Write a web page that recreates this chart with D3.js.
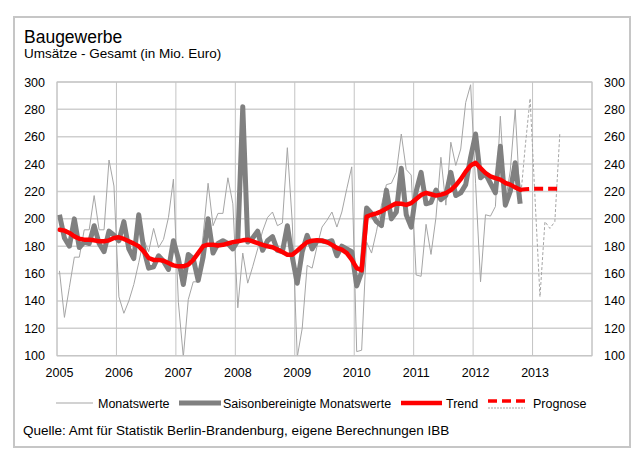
<!DOCTYPE html>
<html>
<head>
<meta charset="utf-8">
<script src="https://cdn.jsdelivr.net/npm/d3@7"></script>
<style>
  body { margin: 0; background: #fff; }
  text { font-family: "Liberation Sans", Arial, Helvetica, sans-serif; fill: #000; }
</style>
</head>
<body>
<svg id="chart" width="636" height="450"></svg>
<script>
const svg = d3.select("#chart");

// --- data (monthly, starting Jan 2005) ---
const years = [2005, 2006, 2007, 2008, 2009, 2010, 2011, 2012, 2013];
const yTicks = [100, 120, 140, 160, 180, 200, 220, 240, 260, 280, 300];

const monatswerte = [
  162, 128, 150, 172, 172, 192, 192, 217, 192, 192, 243, 224,
  143, 131, 140, 152, 168, 185, 176, 193, 179, 185, 201, 229,
  139, 99, 141, 154, 154, 188, 226, 195, 204, 204, 230, 211,
  135, 175, 153, 165, 178, 191, 201, 205, 195, 197, 252, 197,
  99, 120, 166, 164, 180, 194, 199, 205, 194, 205, 222, 238,
  103, 104, 183, 175, 191, 210, 225, 226, 234, 262, 236, 232,
  159, 158, 196, 174, 201, 245, 210, 256, 239, 251, 285, 298,
  226, 154, 203, 202, 209, 275, 212, 235, 280, 212
];

const saisonbereinigt = [
  203, 186, 180, 200, 179, 183, 182, 195, 182, 176, 191, 188,
  184, 198, 178, 171, 203, 178, 164, 165, 173, 169, 163, 184,
  171, 152, 174, 171, 155, 172, 200, 175, 182, 184, 182, 178,
  184, 282, 183, 186, 191, 177, 184, 187, 177, 176, 195, 172,
  153, 176, 188, 178, 184, 184, 183, 184, 173, 180, 178, 176,
  151, 161, 208, 204, 198, 195, 221, 200, 205, 237, 203, 194,
  220, 234, 211, 212, 221, 214, 217, 234, 217, 219, 225, 245,
  262, 230, 233, 226, 219, 253, 210, 220, 241, 211
];

const trend = [
  192, 191.4, 189.7, 187.2, 185.5, 184.8, 184.8, 184.3, 183.6, 183.6, 184.3, 186,
  186.5, 185.3, 183.6, 181.9, 180, 176.2, 171.4, 170, 170, 169.4, 167.7, 166,
  165.3, 165.3, 166.5, 170, 175, 180, 181.1, 181.1, 180.6, 181, 182, 183,
  183.6, 184.3, 184.8, 183.6, 182.3, 181, 180, 179.2, 177.5, 175.8, 173.8, 173.8,
  176.7, 180, 183, 184, 184.3, 184, 183, 181, 178.7, 177.5, 175, 170.2,
  164, 162.4, 201.6, 203, 204, 205.5, 207.5, 209.5, 211.3, 211, 210.2, 211.5,
  214.5, 217.5, 219, 218, 217, 217.7, 218.8, 221, 224.5, 229, 234.5, 239,
  241, 237, 233.5, 231, 229.8, 228.6, 226.2, 225, 223, 221.3
];

// forecast, Oct 2012 .. Jun 2013
const prognoseStart = 93;
const prognoseMonat = [212, 252, 288, 215, 143, 198, 193, 198, 262];
const prognoseTrend = [221.3, 221.6, 221.8, 222, 222, 222, 222, 222, 222];

// --- layout ---
const plot = { left: 57, right: 592, top: 82, bottom: 355.7 };

const x = d3.scaleLinear().domain([2005, 2014]).range([plot.left, plot.right]);
const y = d3.scaleLinear().domain([100, 300]).range([plot.bottom, plot.top]);

const monthX = i => x(2005 + (i + 0.5) / 12);

svg.append("rect").attr("width", 636).attr("height", 450).attr("fill", "#fff");

// frame
svg.append("rect")
  .attr("x", 14).attr("y", 17).attr("width", 616).attr("height", 430)
  .attr("fill", "none").attr("stroke", "#c6c6c6").attr("stroke-width", 2);

// titles
svg.append("text").attr("x", 24).attr("y", 43)
  .style("font-size", "17.5px").text("Baugewerbe");
svg.append("text").attr("x", 24).attr("y", 58)
  .style("font-size", "13.5px").text("Umsätze - Gesamt (in Mio. Euro)");

// grid
const grid = svg.append("g");
grid.selectAll("line.h").data(yTicks).enter().append("line")
  .attr("x1", plot.left).attr("x2", plot.right)
  .attr("y1", d => y(d)).attr("y2", d => y(d))
  .attr("stroke", "#cfcfcf").attr("stroke-width", 1.5);
grid.selectAll("line.v").data(d3.range(2005, 2015)).enter().append("line")
  .attr("x1", d => x(d)).attr("x2", d => x(d))
  .attr("y1", plot.top).attr("y2", plot.bottom)
  .attr("stroke", "#c4c4c4").attr("stroke-width", 1);

// axis labels
const yAxisL = d3.axisLeft(y).tickValues(yTicks).tickSize(0).tickPadding(12);
const yAxisR = d3.axisRight(y).tickValues(yTicks).tickSize(0).tickPadding(12);
const xAxis = d3.axisBottom(x).tickValues(years).tickFormat(d3.format("d")).tickSize(0).tickPadding(12);

[
  svg.append("g").attr("transform", `translate(${plot.left},0)`).call(yAxisL),
  svg.append("g").attr("transform", `translate(${plot.right},0)`).call(yAxisR),
  svg.append("g").attr("transform", `translate(2,${plot.bottom})`).call(xAxis)
].forEach(g => {
  g.select(".domain").remove();
  g.selectAll("text").style("font-size", "12.5px")
    .style("font-family", "'Liberation Sans', Arial, sans-serif").attr("fill", "#000");
});

// clip for series
svg.append("clipPath").attr("id", "clip").append("rect")
  .attr("x", plot.left).attr("y", plot.top)
  .attr("width", plot.right - plot.left).attr("height", plot.bottom - plot.top);

const series = svg.append("g").attr("clip-path", "url(#clip)");
const line = d3.line().x(d => monthX(d.i)).y(d => y(d.v));
const toPts = (arr, start) => arr.map((v, k) => ({ i: start + k, v: v }));

series.append("path").datum(toPts(monatswerte, 0))
  .attr("d", line).attr("fill", "none")
  .attr("stroke", "#a5a5a5").attr("stroke-width", 1);

series.append("path").datum(toPts(prognoseMonat, prognoseStart))
  .attr("d", line).attr("fill", "none")
  .attr("stroke", "#a5a5a5").attr("stroke-width", 1)
  .attr("stroke-dasharray", "3,2");

series.append("path").datum(toPts(saisonbereinigt, 0))
  .attr("d", line).attr("fill", "none")
  .attr("stroke", "#808080").attr("stroke-width", 5)
  .attr("stroke-linejoin", "round");

series.append("path").datum(toPts(trend, 0))
  .attr("d", line).attr("fill", "none")
  .attr("stroke", "#ff0000").attr("stroke-width", 4.5)
  .attr("stroke-linejoin", "round").attr("stroke-linecap", "round");

series.append("path").datum(toPts(prognoseTrend, prognoseStart))
  .attr("d", line).attr("fill", "none")
  .attr("stroke", "#ff0000").attr("stroke-width", 4)
  .attr("stroke-dasharray", "9,5");

// plot border
svg.append("rect")
  .attr("x", plot.left).attr("y", plot.top)
  .attr("width", plot.right - plot.left).attr("height", plot.bottom - plot.top)
  .attr("fill", "none").attr("stroke", "#c4c4c4").attr("stroke-width", 1);

// legend
const ly = 403;
const legend = svg.append("g");
legend.append("line").attr("x1", 56).attr("x2", 93).attr("y1", ly).attr("y2", ly)
  .attr("stroke", "#a5a5a5").attr("stroke-width", 1);
legend.append("text").attr("x", 98).attr("y", ly + 4.5).style("font-size", "12.5px").text("Monatswerte");
legend.append("line").attr("x1", 179).attr("x2", 221).attr("y1", ly).attr("y2", ly)
  .attr("stroke", "#808080").attr("stroke-width", 5);
legend.append("text").attr("x", 223).attr("y", ly + 4.5).style("font-size", "12.5px").text("Saisonbereinigte Monatswerte");
legend.append("line").attr("x1", 401).attr("x2", 442).attr("y1", ly).attr("y2", ly)
  .attr("stroke", "#ff0000").attr("stroke-width", 4.5);
legend.append("text").attr("x", 446).attr("y", ly + 4.5).style("font-size", "12.5px").text("Trend");
legend.append("line").attr("x1", 488).attr("x2", 525).attr("y1", ly - 2).attr("y2", ly - 2)
  .attr("stroke", "#ff0000").attr("stroke-width", 3.5).attr("stroke-dasharray", "9,5");
legend.append("line").attr("x1", 488).attr("x2", 525).attr("y1", ly + 5).attr("y2", ly + 5)
  .attr("stroke", "#a5a5a5").attr("stroke-width", 1).attr("stroke-dasharray", "2,1");
legend.append("text").attr("x", 533).attr("y", ly + 4.5).style("font-size", "12.5px").text("Prognose");

// source
svg.append("text").attr("x", 23).attr("y", 435)
  .style("font-size", "13.5px")
  .text("Quelle: Amt für Statistik Berlin-Brandenburg, eigene Berechnungen IBB");
</script>
</body>
</html>
